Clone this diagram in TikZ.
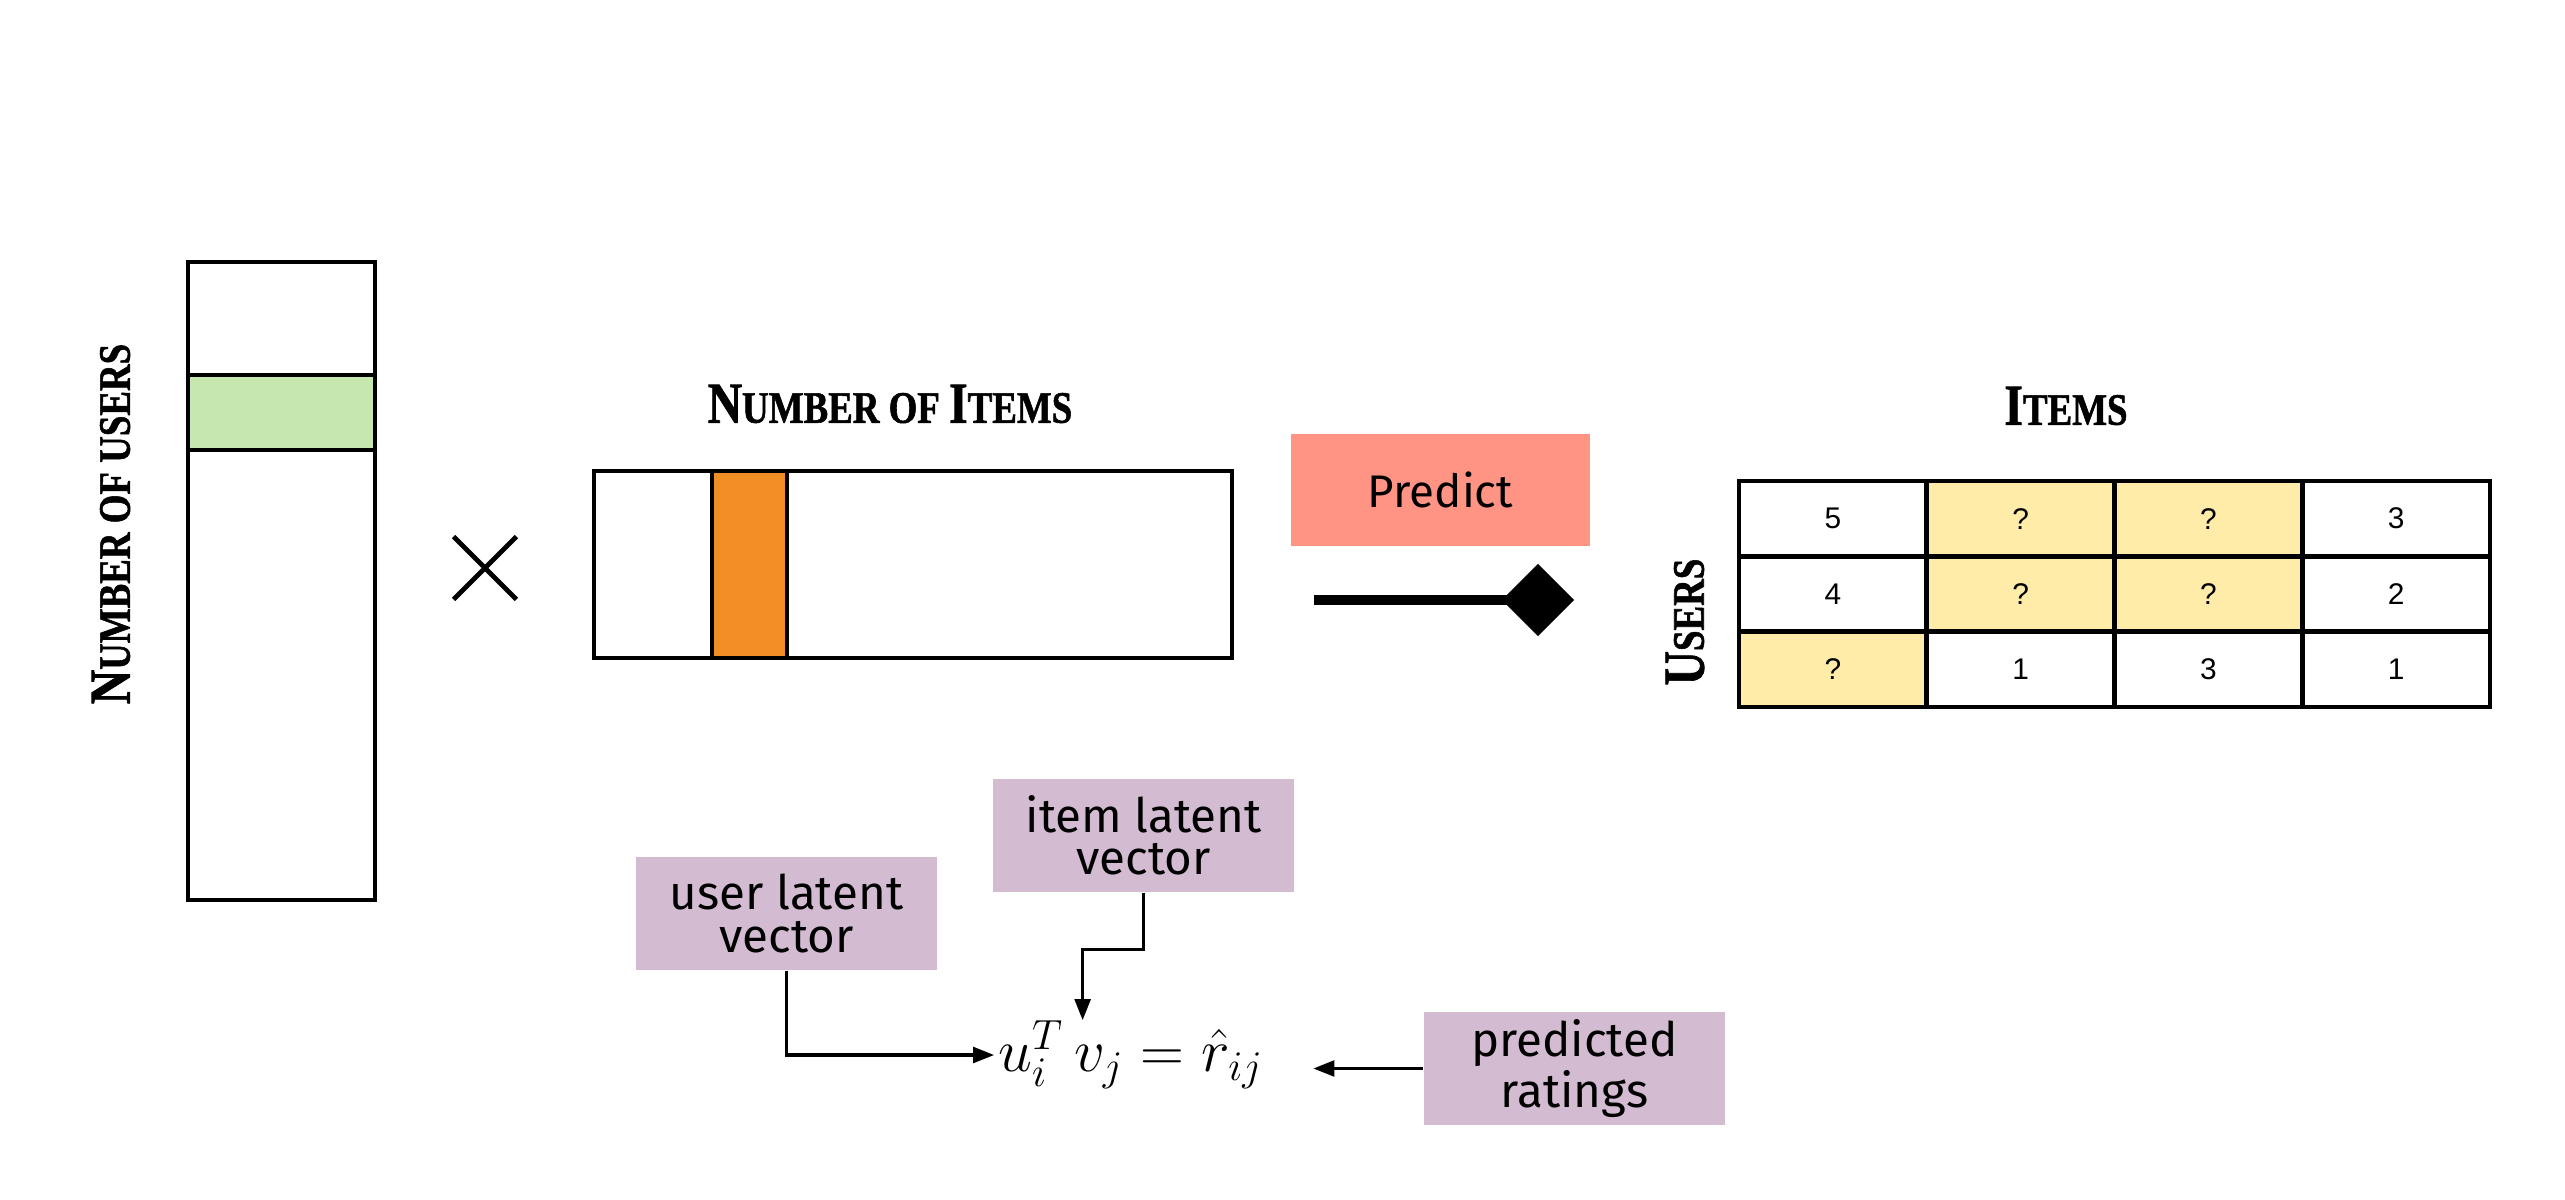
\documentclass[tikz,border=0pt]{standalone}
\usepackage{fontspec}
\setmainfont{Liberation Sans}
\newfontfamily\headfont[FakeStretch=0.82, FakeBold=1.2]{Liberation Serif}
\newfontfamily\labfont{Fira Sans}
\usetikzlibrary{arrows.meta,shapes.misc,calc}
\definecolor{usergreen}{HTML}{C6E8AE}
\definecolor{itemorange}{HTML}{F08D25}
\definecolor{salmon}{HTML}{FF9384}
\definecolor{lilac}{HTML}{D3BBD2}
\definecolor{qyellow}{HTML}{FFECA8}
\newcommand\hsc[2]{{\fontsize{16.5}{17}\selectfont #1}{\fontsize{12.8}{13}\selectfont #2}}
\begin{document}
\begin{tikzpicture}[x=0.01cm,y=-0.01cm,
  mat/.style={draw, line width=1.3pt, inner sep=0pt},
  head/.style={font=\headfont\bfseries, inner sep=0pt},
  lbl/.style={fill=lilac, minimum width=3.01cm, minimum height=1.13cm, inner sep=0pt,
    align=center, font=\labfont\fontsize{13.5}{12}\selectfont},
  cell/.style={draw, line width=1.3pt, minimum width=1.8775cm, minimum height=0.753cm,
    inner sep=0pt, font=\fontsize{8.5}{9}\selectfont},
  arr/.style={line width=0.9pt, -{Triangle[length=6pt,width=4.5pt]}}]
\useasboundingbox (0,0) rectangle (2565,1200);
% user matrix
\node[mat, minimum width=1.87cm, minimum height=6.38cm] (U) at (281.5,581) {};
\node[mat, fill=usergreen, minimum width=1.87cm, minimum height=0.75cm] (urow) at (281.5,412.5) {};
\node[head, rotate=90] (tusers) at (111,524) {\hsc{N}{UMBER OF USERS}};
% times
\node[cross out, draw, line width=1.4pt, minimum size=0.58cm, inner sep=0pt] (times) at (485,568) {};
% item matrix
\node[mat, minimum width=6.38cm, minimum height=1.87cm] (V) at (913,564.5) {};
\node[mat, fill=itemorange, minimum width=0.75cm, minimum height=1.87cm] (vcol) at (749.5,564.5) {};
\node[head] (titems) at (890,404) {\hsc{N}{UMBER OF }\hsc{I}{TEMS}};
% predict
\node[fill=salmon, minimum width=2.99cm, minimum height=1.11cm, inner sep=0pt,
  font=\labfont\fontsize{13}{14}\selectfont] (pred) at (1440.5,490) {Predict};
\coordinate (ps) at (1314,600);
\coordinate (pe) at (1574,600);
\draw[line width=2.8pt, -{Diamond[length=20.5pt,width=20.5pt]}] (ps) -- (pe);
% rating table
\node[head] (titems2) at (2066,406) {\hsc{I}{TEMS}};
\node[head, rotate=90] (tusers2) at (1685,622) {\hsc{U}{SERS}};
\node[cell] (c11) at (1832.9,518.7) {5};
\node[cell, fill=qyellow] (c12) at (2020.6,518.7) {?};
\node[cell, fill=qyellow] (c13) at (2208.4,518.7) {?};
\node[cell] (c14) at (2396.1,518.7) {3};
\node[cell] (c21) at (1832.9,594) {4};
\node[cell, fill=qyellow] (c22) at (2020.6,594) {?};
\node[cell, fill=qyellow] (c23) at (2208.4,594) {?};
\node[cell] (c24) at (2396.1,594) {2};
\node[cell, fill=qyellow] (c31) at (1832.9,669.3) {?};
\node[cell] (c32) at (2020.6,669.3) {1};
\node[cell] (c33) at (2208.4,669.3) {3};
\node[cell] (c34) at (2396.1,669.3) {1};
% formula and labels
\node[inner sep=0pt, font=\fontsize{17}{19}\selectfont] (eq) at (1131,1055) {$u_i^T\, v_j = \hat{r}_{ij}$};
\node[lbl] (ibox) at (1143.5,835.5) {item latent\\vector};
\node[lbl] (ubox) at (786.5,913.5) {user latent\\vector};
\node[lbl] (pbox) at (1574.5,1068.5) {predicted\\ratings};
\draw[arr, shorten >=1pt] (ubox.south) |- (eq.west);
\draw[arr] (ibox.south) -- ++(0,57) -| ($(eq.north west)+(85,0)$);
\draw[arr] (pbox.west) -- ($(pbox.west -| eq.east)+(49,0)$);
\end{tikzpicture}
\end{document}
